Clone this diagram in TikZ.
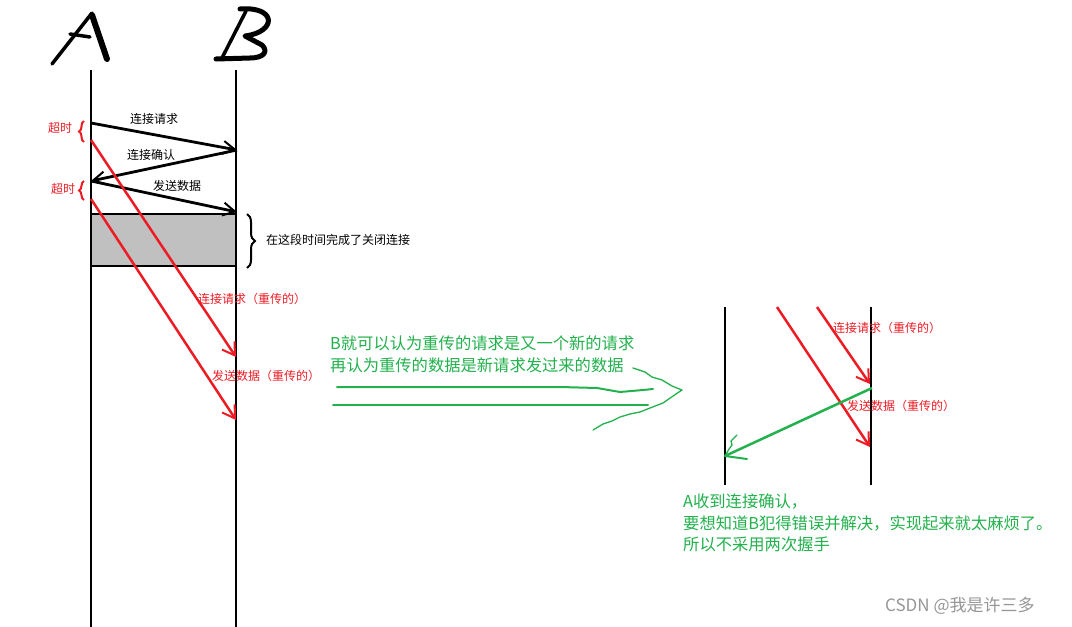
\documentclass[tikz,border=0pt]{standalone}
\usepackage{fontspec}
\setmainfont{Noto Sans CJK SC}
\usetikzlibrary{arrows.meta,decorations.pathreplacing}
\definecolor{pred}{RGB}{237,28,36}
\definecolor{pgreen}{RGB}{34,177,76}
\definecolor{pgray}{RGB}{192,192,192}
\definecolor{wm}{RGB}{150,150,150}
\begin{document}
\begin{tikzpicture}[x=1pt,y=-1pt,
  life/.style={line width=2.5pt},
  msg/.style={line width=2.8pt,-{Straight Barb[length=12pt,width=13pt,line width=2pt]}},
  resend/.style={pred,line width=2.5pt,-{Straight Barb[length=12pt,width=15pt,line width=2pt]}},
  lbl/.style={inner sep=0pt,anchor=west,font=\fontsize{12}{12}\selectfont},
  redlbl/.style={lbl,text=pred},
  grn/.style={inner sep=0pt,anchor=west,text=pgreen,font=\fontsize{16.3}{16.3}\selectfont},
  hand/.style={line cap=round,line join=round}]
\useasboundingbox[fill=white] (0,0) rectangle (1072,627);

% handwritten A and B
\draw[hand,line width=3.5pt] (52,64) -- (92,13);
\draw[hand,line width=6pt] (92,15) -- (107,59);
\draw[hand,line width=3.5pt] (70,34) -- (90,37);
\draw[hand,line width=3.5pt] (222,58) -- (246,11);
\draw[hand,line width=5pt] (240,9) .. controls (277,6) and (277,32) .. (245,36) -- (262,45) .. controls (269,52) and (263,58) .. (250,58) -- (216,59);

% lifelines
\coordinate (Atop) at (91,70);
\coordinate (Abot) at (91,627);
\coordinate (Btop) at (236,70);
\coordinate (Bbot) at (236,627);

% gray block
\draw[fill=pgray,line width=2.5pt] (91,214) rectangle (236,266);
\draw[life] (Atop) -- (Abot);
\draw[life] (Btop) -- (Bbot);

% messages
\coordinate (a1) at (91,123);
\coordinate (b1) at (237,150);
\coordinate (a2) at (91,181);
\coordinate (b2) at (237,212);
\draw[msg] (a1) -- (b1);
\draw[msg] (b1) -- (a2);
\draw[msg] (a2) -- (b2);
\node[lbl] (l1) at (130,119) {连接请求};
\node[lbl] (l2) at (127,155) {连接确认};
\node[lbl] (l3) at (153,186) {发送数据};

% timeouts
\draw[pred,line width=2pt,decorate,decoration={brace,amplitude=5pt}] (84,142) -- (84,121);
\draw[pred,line width=2pt,decorate,decoration={brace,amplitude=5pt}] (84,200) -- (84,181);
\node[redlbl] (t1) at (48,128) {超时};
\node[redlbl] (t2) at (51,189) {超时};

% closing brace
\draw[line width=2pt,decorate,decoration={brace,amplitude=8pt}] (247,214) -- (247,268);
\node[lbl] (close) at (266,240) {在这段时间完成了关闭连接};

% resent messages
\coordinate (r1s) at (91,140);
\coordinate (r1e) at (236,357);
\coordinate (r2s) at (91,199);
\coordinate (r2e) at (236,420);
\draw[resend] (r1s) -- (r1e);
\draw[resend] (r2s) -- (r2e);
\node[redlbl] (rl1) at (198,299) {连接请求（重传的）};
\node[redlbl] (rl2) at (212,376) {发送数据（重传的）};

% green explanation
\node[grn] (g1) at (330,343) {B就可以认为重传的请求是又一个新的请求};
\node[grn] (g2) at (330,365) {再认为重传的数据是新请求发过来的数据};
\draw[pgreen,line width=2pt,hand] (337,387) -- (560,387) -- (597,388) -- (620,392) -- (643,390) -- (653,389);
\draw[pgreen,line width=2pt,hand] (333,405) -- (648,405);
\draw[pgreen,line width=1.3pt,hand] (633,368) -- (645,372) -- (652,377) -- (662,380) -- (672,386) -- (682,390) -- (676,394) -- (663,403) -- (650,408) -- (640,412) -- (630,414) -- (620,417) -- (612,421) -- (603,424) -- (593,430);

% right diagram
\coordinate (Ct) at (725,307);
\coordinate (Cb) at (725,485);
\coordinate (Dt) at (871,307);
\coordinate (Db) at (871,485);
\draw[life] (Ct) -- (Cb);
\draw[life] (Dt) -- (Db);
\coordinate (s1s) at (777,307);
\coordinate (s1e) at (870,447);
\coordinate (s2s) at (817,307);
\coordinate (s2e) at (870,384);
\draw[resend] (s1s) -- (s1e);
\draw[resend] (s2s) -- (s2e);
\node[redlbl] (rl3) at (833,328) {连接请求（重传的）};
\node[redlbl] (rl4) at (847,406) {发送数据（重传的）};
\coordinate (gs) at (872,388);
\coordinate (ge) at (725,456);
\coordinate (gb1) at (737,435);
\coordinate (gb2) at (747,459);
\draw[pgreen,line width=2.5pt] (gs) -- (ge);
\draw[pgreen,line width=1.3pt,hand] (ge) -- (729,449) -- (732,445) -- (731,441) -- (gb1);
\draw[pgreen,line width=2pt,hand] (ge) -- (gb2);

\node[grn] (g3) at (683,501) {A收到连接确认，};
\node[grn] (g4) at (683,523) {要想知道B犯得错误并解决，实现起来就太麻烦了。};
\node[grn] (g5) at (683,544) {所以不采用两次握手};

\node[inner sep=0pt,anchor=west,text=wm,font=\fontsize{17}{17}\selectfont] (wm) at (885,606) {CSDN @我是许三多};
\end{tikzpicture}
\end{document}
